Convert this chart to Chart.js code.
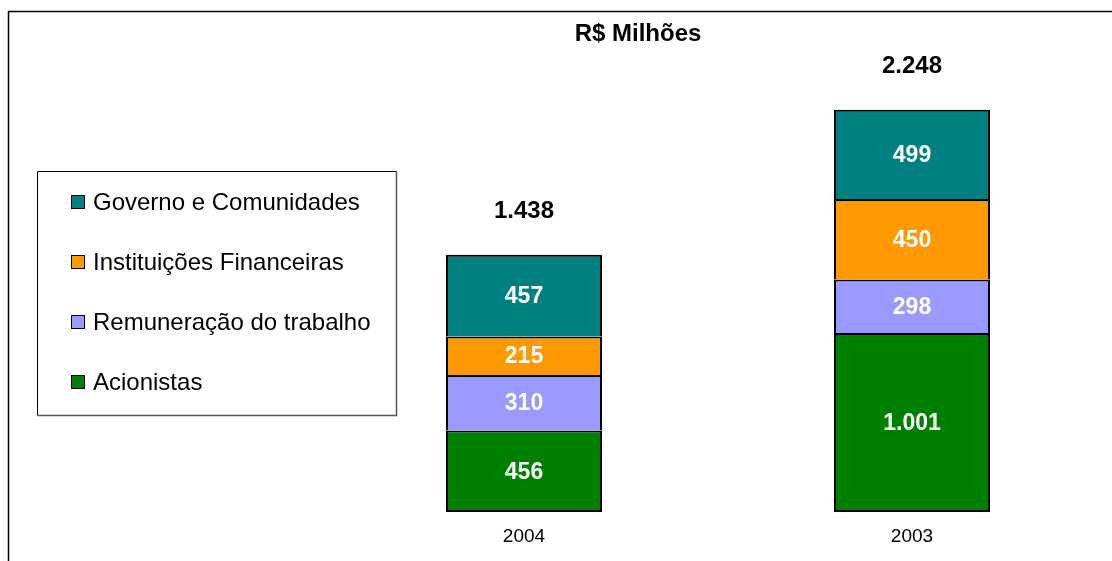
<!DOCTYPE html>
<html>
<head>
<meta charset="utf-8">
<script src="https://cdn.jsdelivr.net/npm/chart.js@4"></script>
<style>
html,body{margin:0;padding:0;background:#fff;}
#wrap{position:relative;width:1112px;height:561px;}
</style>
</head>
<body>
<div id="wrap"><canvas id="c" width="1112" height="561"></canvas></div>
<script>
const categories = ['2004', '2003'];
const acionistas = [456, 1001];
const remuneracao = [310, 298];
const instituicoes = [215, 450];
const governo = [457, 499];
const seriesNames = ['Acionistas', 'Remuneração do trabalho', 'Instituições Financeiras', 'Governo e Comunidades'];
const titleText = 'R$ Milhões';

const FONT = "'Liberation Sans', Arial, sans-serif";
const colors = ['#008000', '#9999FF', '#FF9900', '#008080'];

function fmt(v) {
  return String(v).replace(/\B(?=(\d{3})+(?!\d))/g, '.');
}

const seriesValues = [acionistas, remuneracao, instituicoes, governo];

const decorPlugin = {
  id: 'decor',
  beforeDraw(chart) {
    const ctx = chart.ctx;
    ctx.save();
    ctx.fillStyle = '#fff';
    ctx.fillRect(0, 0, chart.width, chart.height);
    ctx.restore();
  },
  afterDatasetsDraw(chart) {
    const ctx = chart.ctx;
    ctx.save();
    // frame
    ctx.strokeStyle = '#000';
    ctx.lineWidth = 1.5;
    ctx.beginPath();
    ctx.moveTo(8.5, chart.height + 2);
    ctx.lineTo(8.5, 11.5);
    ctx.lineTo(chart.width + 2, 11.5);
    ctx.stroke();

    // title
    ctx.fillStyle = '#000';
    ctx.font = 'bold 24px ' + FONT;
    ctx.textAlign = 'center';
    ctx.textBaseline = 'middle';
    ctx.fillText(titleText, 638, 34);

    // segment labels
    ctx.font = 'bold 23px ' + FONT;
    ctx.fillStyle = '#fff';
    chart.data.datasets.forEach((ds, di) => {
      const meta = chart.getDatasetMeta(di);
      meta.data.forEach((el, i) => {
        const p = el.getProps(['x', 'y', 'base'], true);
        ctx.fillText(fmt(ds.data[i]), p.x, (p.y + p.base) / 2 + 1);
      });
    });

    // totals
    ctx.fillStyle = '#000';
    ctx.font = 'bold 24px ' + FONT;
    const yScale = chart.scales.y;
    const xScale = chart.scales.x;
    categories.forEach((c, i) => {
      let total = 0;
      seriesValues.forEach(s => total += s[i]);
      const y = yScale.getPixelForValue(total);
      ctx.fillText(fmt(total), xScale.getPixelForValue(i), y - 43);
    });

    // legend
    const lx = 37.5, ly = 171.5, lw = 359, lh = 244;
    ctx.lineWidth = 1;
    ctx.strokeStyle = '#000';
    ctx.beginPath();
    ctx.moveTo(lx + lw, ly);
    ctx.lineTo(lx, ly);
    ctx.lineTo(lx, ly + lh);
    ctx.stroke();
    ctx.strokeStyle = '#555';
    ctx.lineWidth = 1.5;
    ctx.beginPath();
    ctx.moveTo(lx, ly + lh);
    ctx.lineTo(lx + lw, ly + lh);
    ctx.lineTo(lx + lw, ly);
    ctx.stroke();

    ctx.font = '24px ' + FONT;
    ctx.textAlign = 'left';
    ctx.textBaseline = 'middle';
    const n = chart.data.datasets.length;
    for (let k = 0; k < n; k++) {
      const ds = chart.data.datasets[n - 1 - k];
      const cy = 202 + k * 60;
      ctx.fillStyle = ds.backgroundColor;
      ctx.fillRect(71, cy - 7, 14, 14);
      ctx.strokeStyle = '#000';
      ctx.lineWidth = 1;
      ctx.strokeRect(71.5, cy - 6.5, 13, 13);
      ctx.fillStyle = '#000';
      ctx.fillText(ds.label, 93, cy + 1);
    }
    ctx.restore();
  }
};

const datasets = seriesValues.map((vals, i) => ({
  label: seriesNames[i],
  data: vals,
  backgroundColor: colors[i],
  borderColor: '#000',
  borderWidth: 2,
  borderSkipped: i === 0 ? false : 'start',
  barPercentage: 0.402,
  categoryPercentage: 1
}));

new Chart(document.getElementById('c'), {
  type: 'bar',
  data: { labels: categories, datasets: datasets },
  options: {
    responsive: false,
    animation: false,
    devicePixelRatio: 1,
    layout: { padding: { left: 330, right: 6, top: 11, bottom: 0 } },
    plugins: {
      legend: { display: false },
      title: { display: false },
      tooltip: { enabled: false }
    },
    scales: {
      x: {
        stacked: true,
        grid: { display: false, drawTicks: false },
        border: { display: false },
        ticks: { color: '#000', font: { family: FONT, size: 19 }, padding: 13 },
        afterFit(scale) { scale.height = 49; }
      },
      y: {
        stacked: true,
        display: false,
        min: 0,
        max: 2800
      }
    }
  },
  plugins: [decorPlugin]
});
</script>
</body>
</html>
